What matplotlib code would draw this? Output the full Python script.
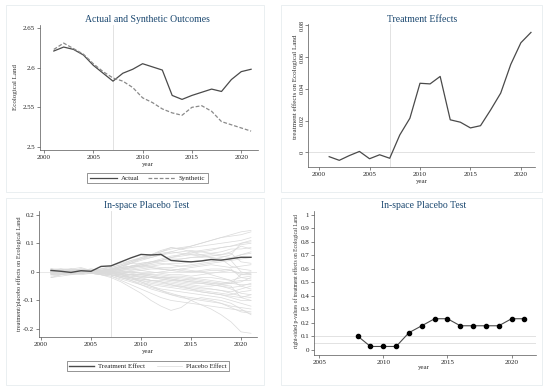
import matplotlib.pyplot as plt
from matplotlib.patches import Rectangle
from matplotlib.ticker import FormatStrFormatter
import numpy as np

plt.rcParams['font.family'] = ['Liberation Serif', 'DejaVu Serif']

W, H = 550, 388

# data
#---------------------------------------------------------------------------
years = list(range(2001, 2022))

actual = [2.621, 2.626, 2.623, 2.616, 2.603, 2.593, 2.583, 2.593, 2.598, 2.605, 2.601,
          2.597, 2.565, 2.560, 2.565, 2.569, 2.573, 2.570, 2.585, 2.595, 2.598]
synthetic = [2.623, 2.631, 2.624, 2.617, 2.605, 2.595, 2.587, 2.583, 2.575, 2.562, 2.556,
             2.548, 2.543, 2.540, 2.550, 2.552, 2.545, 2.532, 2.528, 2.524, 2.520]

effect = [-0.0027, -0.005, -0.002, 0.0006, -0.004, -0.0015, -0.0037, 0.011, 0.0215, 0.0435, 0.0431,
          0.0478, 0.0205, 0.019, 0.0154, 0.0168, 0.0267, 0.0373, 0.0554, 0.069, 0.0755]

treat_effect = [0.005, 0.002, -0.002, 0.004, 0.002, 0.019, 0.021, 0.035, 0.049, 0.061, 0.059,
                0.061, 0.040, 0.037, 0.035, 0.038, 0.043, 0.041, 0.046, 0.051, 0.051]

placebo = [
    [-0.02, -0.01, 0.0, 0.005, 0.0, 0.005, 0.01, 0.02, 0.035, 0.05, 0.06, 0.07, 0.08, 0.085, 0.09, 0.1, 0.11, 0.12, 0.13, 0.14, 0.145],
    [0.01, 0.005, 0.01, 0.005, 0.0, 0.01, 0.015, 0.025, 0.04, 0.05, 0.06, 0.075, 0.085, 0.08, 0.09, 0.1, 0.11, 0.12, 0.125, 0.13, 0.14],
    [-0.005, 0.0, 0.01, 0.015, 0.005, 0.01, 0.02, 0.03, 0.04, 0.045, 0.05, 0.06, 0.07, 0.08, 0.085, 0.09, 0.095, 0.1, 0.105, 0.11, 0.12],
    [0.0, -0.005, 0.005, 0.01, 0.005, 0.0, 0.005, 0.015, 0.02, 0.03, 0.035, 0.045, 0.055, 0.06, 0.065, 0.07, 0.075, 0.085, 0.09, 0.1, 0.105],
    [0.005, 0.01, 0.0, 0.005, 0.01, 0.005, 0.01, 0.02, 0.03, 0.04, 0.05, 0.06, 0.065, 0.07, 0.075, 0.07, 0.065, 0.06, 0.07, 0.09, 0.08],
    [-0.01, 0.0, 0.005, 0.0, -0.005, 0.0, 0.005, 0.01, 0.02, 0.025, 0.03, 0.035, 0.04, 0.045, 0.05, 0.055, 0.06, 0.055, 0.05, 0.06, 0.065],
    [0.0, 0.005, 0.0, -0.005, 0.0, 0.005, 0.0, 0.01, 0.015, 0.02, 0.025, 0.03, 0.025, 0.02, 0.02, 0.025, 0.03, 0.035, 0.04, 0.045, 0.05],
    [0.005, 0.0, -0.005, 0.0, 0.005, 0.0, -0.005, 0.0, 0.005, 0.01, 0.015, 0.01, 0.005, 0.01, 0.015, 0.02, 0.025, 0.02, 0.015, 0.02, 0.025],
    [0.0, 0.005, 0.01, 0.0, -0.005, 0.005, 0.01, 0.015, 0.02, 0.02, 0.015, 0.01, 0.005, 0.0, 0.0, 0.005, 0.01, 0.01, 0.005, -0.005, 0.0],
    [-0.005, 0.0, 0.0, 0.005, 0.0, -0.005, 0.0, 0.005, 0.01, 0.005, 0.0, -0.005, -0.01, -0.01, -0.015, -0.01, -0.005, 0.0, 0.005, -0.01, -0.01],
    [0.0, -0.005, 0.0, 0.005, 0.0, 0.0, -0.005, -0.01, -0.01, -0.015, -0.02, -0.02, -0.025, -0.03, -0.025, -0.02, -0.02, -0.025, -0.03, -0.02, -0.015],
    [0.005, 0.0, 0.005, 0.0, 0.005, 0.0, -0.005, -0.005, -0.01, -0.01, -0.015, -0.02, -0.02, -0.025, -0.03, -0.035, -0.04, -0.04, -0.035, -0.03, -0.03],
    [-0.01, -0.005, 0.0, 0.0, -0.005, -0.01, -0.01, -0.015, -0.02, -0.025, -0.03, -0.03, -0.035, -0.04, -0.045, -0.05, -0.05, -0.045, -0.04, -0.035, -0.02],
    [0.0, 0.0, -0.005, -0.005, 0.0, 0.005, 0.0, -0.005, -0.01, -0.02, -0.02, -0.025, -0.03, -0.035, -0.04, -0.04, -0.045, -0.05, -0.055, -0.05, -0.04],
    [0.005, 0.005, 0.0, 0.0, 0.0, -0.005, -0.01, -0.02, -0.025, -0.03, -0.04, -0.045, -0.05, -0.05, -0.055, -0.06, -0.06, -0.065, -0.07, -0.06, -0.05],
    [-0.005, 0.0, 0.005, 0.0, -0.005, -0.005, -0.01, -0.015, -0.02, -0.025, -0.03, -0.035, -0.045, -0.05, -0.06, -0.065, -0.07, -0.075, -0.08, -0.07, -0.065],
    [0.0, 0.005, 0.005, 0.0, 0.0, 0.0, -0.005, -0.01, -0.02, -0.03, -0.035, -0.04, -0.045, -0.055, -0.06, -0.07, -0.075, -0.08, -0.085, -0.09, -0.08],
    [0.01, 0.005, 0.0, -0.005, 0.0, 0.0, -0.005, -0.015, -0.025, -0.035, -0.045, -0.05, -0.055, -0.06, -0.065, -0.07, -0.075, -0.08, -0.09, -0.1, -0.1],
    [-0.015, -0.01, -0.005, 0.0, 0.0, -0.005, -0.01, -0.02, -0.03, -0.04, -0.05, -0.06, -0.065, -0.07, -0.075, -0.08, -0.085, -0.09, -0.1, -0.11, -0.12],
    [0.0, -0.005, -0.01, -0.005, 0.0, -0.01, -0.015, -0.03, -0.045, -0.06, -0.075, -0.09, -0.1, -0.105, -0.11, -0.115, -0.12, -0.125, -0.13, -0.135, -0.14],
    [0.005, 0.0, -0.005, -0.01, -0.005, -0.01, -0.02, -0.035, -0.055, -0.075, -0.1, -0.12, -0.135, -0.125, -0.1, -0.09, -0.095, -0.1, -0.11, -0.13, -0.15],
    [-0.01, -0.01, -0.005, 0.0, -0.005, -0.01, -0.015, -0.025, -0.035, -0.045, -0.055, -0.065, -0.075, -0.085, -0.1, -0.115, -0.13, -0.15, -0.175, -0.21, -0.215],
    [0.01, 0.01, 0.005, 0.01, 0.005, 0.01, 0.015, 0.025, 0.035, 0.045, 0.055, 0.065, 0.07, 0.065, 0.06, 0.055, 0.05, 0.045, 0.02, 0.01, 0.005],
    [-0.005, -0.005, 0.0, 0.005, 0.0, 0.0, 0.005, 0.015, 0.03, 0.045, 0.06, 0.07, 0.085, 0.08, 0.07, 0.06, 0.05, 0.045, 0.04, 0.0, -0.01],
    [0.0, 0.0, 0.005, 0.0, 0.0, 0.005, 0.01, 0.005, 0.0, -0.005, -0.005, 0.0, 0.005, 0.01, 0.005, 0.0, -0.01, -0.02, -0.03, -0.05, -0.06],
    [0.005, 0.0, 0.0, 0.005, 0.005, 0.0, 0.005, 0.01, 0.01, 0.015, 0.02, 0.025, 0.03, 0.03, 0.035, 0.04, 0.045, 0.05, 0.06, 0.1, 0.11],
    [-0.005, -0.01, -0.005, 0.0, 0.005, 0.0, -0.005, -0.01, -0.015, -0.015, -0.02, -0.025, -0.03, -0.03, -0.035, -0.035, -0.04, -0.045, -0.05, -0.09, -0.1],
    [0.0, 0.005, 0.0, -0.005, -0.005, 0.0, 0.0, -0.005, -0.01, -0.01, -0.01, -0.015, -0.02, -0.02, -0.025, -0.03, -0.035, -0.04, -0.04, -0.01, -0.005],
    [0.01, 0.005, 0.005, 0.0, 0.0, 0.005, 0.005, 0.01, 0.015, 0.02, 0.03, 0.04, 0.05, 0.06, 0.07, 0.075, 0.08, 0.085, 0.09, 0.095, 0.1],
    [-0.01, -0.005, 0.0, 0.005, 0.01, 0.005, 0.0, 0.005, 0.015, 0.025, 0.035, 0.04, 0.05, 0.055, 0.06, 0.06, 0.065, 0.07, 0.08, 0.08, 0.085],
    [0.0, 0.0, 0.0, 0.0, -0.005, -0.005, 0.0, 0.0, 0.0, -0.005, -0.01, -0.01, -0.015, -0.015, -0.02, -0.025, -0.03, -0.035, -0.04, -0.045, -0.045],
    [0.005, 0.0, -0.005, 0.0, 0.0, 0.0, -0.005, -0.01, -0.015, -0.02, -0.03, -0.035, -0.04, -0.045, -0.05, -0.055, -0.06, -0.065, -0.075, -0.085, -0.09],
    [-0.005, 0.0, 0.005, 0.005, 0.0, -0.005, -0.005, -0.01, -0.02, -0.035, -0.05, -0.065, -0.08, -0.09, -0.095, -0.1, -0.105, -0.11, -0.12, -0.125, -0.13],
    [0.0, 0.005, 0.005, 0.01, 0.005, 0.005, 0.01, 0.02, 0.03, 0.03, 0.035, 0.04, 0.045, 0.045, 0.05, 0.05, 0.055, 0.06, 0.065, 0.035, 0.03],
    [0.0, -0.005, 0.0, 0.0, 0.005, 0.0, 0.0, -0.005, 0.0, 0.005, 0.01, 0.01, 0.01, 0.005, 0.0, 0.0, 0.005, 0.005, 0.01, -0.02, -0.025],
    [-0.02, -0.015, -0.01, -0.005, 0.0, -0.005, -0.01, -0.02, -0.03, -0.045, -0.06, -0.07, -0.08, -0.085, -0.09, -0.095, -0.1, -0.11, -0.125, -0.14, -0.145],
    [0.005, 0.01, 0.01, 0.005, 0.0, 0.005, 0.01, 0.015, 0.02, 0.025, 0.02, 0.015, 0.015, 0.02, 0.025, 0.03, 0.035, 0.04, 0.045, 0.06, 0.07],
    [0.0, 0.0, -0.005, 0.0, 0.0, 0.0, 0.005, 0.0, -0.005, -0.01, -0.015, -0.02, -0.025, -0.03, -0.035, -0.04, -0.045, -0.05, -0.06, -0.075, -0.08],
]

pval_years = list(range(2008, 2022))
pvals = [0.103, 0.026, 0.026, 0.026, 0.128, 0.179, 0.231, 0.231, 0.179, 0.179, 0.179, 0.179, 0.231, 0.231]

TITLE_C = '#1a476f'
DARK = '#4a4a4a'
AX_C = '#555555'


# helpers
#---------------------------------------------------------------------------
def add_ax(fig, left, top, right, bottom):
    return fig.add_axes([left / W, 1 - bottom / H, (right - left) / W, (bottom - top) / H])


def style(ax, xlim, ylim, xticks, yticks, fs=5, yfs=5, rot=0, pad=1.5):
    ax.set_xlim(xlim)
    ax.set_ylim(ylim)
    for s in ['top', 'right']:
        ax.spines[s].set_visible(False)
    for s in ['left', 'bottom']:
        ax.spines[s].set_color(AX_C)
        ax.spines[s].set_linewidth(0.5)
    ax.set_xticks(xticks)
    ax.set_yticks(yticks)
    ax.yaxis.set_major_formatter(FormatStrFormatter('%g'))
    ax.tick_params(length=2, width=0.5, color=AX_C, labelsize=fs, pad=1.5, labelcolor='#222222')
    ax.tick_params(axis='y', pad=pad, labelrotation=rot, labelsize=yfs)
    if rot:
        for lab in ax.get_yticklabels():
            lab.set_va('center')
    ax.set_facecolor('none')


def txt(fig, x, y, s, size=5, rot=0, color='#333333'):
    fig.text(x / W, 1 - y / H, s, ha='center', va='center', fontsize=size, rotation=rot, color=color)


def legend(fig, handles, labels, cx, cy, hl, cs):
    leg = fig.legend(handles, labels, loc='center', bbox_to_anchor=(cx / W, 1 - cy / H),
                     ncol=2, fontsize=5, frameon=True, fancybox=False, edgecolor='#444444',
                     handlelength=hl, columnspacing=cs, borderpad=0.35, handletextpad=0.6)
    leg.get_frame().set_linewidth(0.5)
    for t in leg.get_texts():
        t.set_color('#222222')


fig = plt.figure(figsize=(W / 100, H / 100), dpi=100)

# panel frames
for (l, t, r, b) in [(6, 5, 264, 192), (281, 5, 542, 192), (6, 198, 264, 385), (281, 198, 542, 385)]:
    fig.patches.append(Rectangle((l / W, 1 - b / H), (r - l) / W, (b - t) / H, transform=fig.transFigure,
                                 facecolor='white', edgecolor='#e6ecef', linewidth=0.6, zorder=-5))

# Actual and Synthetic
#---------------------------------------------------------------------------
ax1 = add_ax(fig, 40, 25, 258, 150)
ax1.axvline(2007, color='#dddddd', lw=0.6)
ax1.plot(years, actual, color=DARK, lw=0.9, label='Actual')
ax1.plot(years, synthetic, color='#8a8a8a', lw=0.9, ls=(0, (3, 1.5)), label='Synthetic')
style(ax1, (1999.6, 2021.7), (2.4962, 2.6538), [2000, 2005, 2010, 2015, 2020], [2.5, 2.55, 2.6, 2.65])
txt(fig, 147, 19, 'Actual and Synthetic Outcomes', 7, color=TITLE_C)
txt(fig, 148, 164, 'year')
txt(fig, 15, 87, 'Ecological Land', rot=90)
h, l = ax1.get_legend_handles_labels()
legend(fig, h, l, 147.5, 178, 3.9, 1.2)

# Treatment Effects
#---------------------------------------------------------------------------
ax2 = add_ax(fig, 308, 24, 535, 167)
ax2.axvline(2007, color='#dddddd', lw=0.6)
ax2.axhline(0, color='#dddddd', lw=0.6)
ax2.plot(years, effect, color=DARK, lw=0.9)
style(ax2, (1998.9, 2021.4), (-0.0092, 0.0808), [2000, 2005, 2010, 2015, 2020], [0, 0.02, 0.04, 0.06, 0.08],
      yfs=4.6, rot=90, pad=0.3)
txt(fig, 422, 19, 'Treatment Effects', 7, color=TITLE_C)
txt(fig, 422, 182, 'year')
txt(fig, 295, 87, 'treatment effects on Ecological Land', 5.1, rot=90)

# In-space Placebo Test (lines)
#---------------------------------------------------------------------------
ax3 = add_ax(fig, 39, 211, 257, 337)
ax3.axvline(2007, color='#dddddd', lw=0.6)
ax3.axhline(0, color='#e4e4e4', lw=0.6)
for i, p in enumerate(placebo):
    ax3.plot(years, p, color='#dadada', lw=0.5, label='Placebo Effect' if i == 0 else None)
ax3.plot(years, treat_effect, color=DARK, lw=1.0, label='Treatment Effect')
style(ax3, (1999.8, 2021.6), (-0.228, 0.213), [2000, 2005, 2010, 2015, 2020], [-0.2, -0.1, 0, 0.1, 0.2])
txt(fig, 147, 206, 'In-space Placebo Test', 7, color=TITLE_C)
txt(fig, 148, 352, 'year')
txt(fig, 19, 274, 'treatment/placebo effects on Ecological Land', 4.5, rot=90)
h, l = ax3.get_legend_handles_labels()
legend(fig, [h[1], h[0]], [l[1], l[0]], 148, 366, 3.6, 1.7)

# In-space Placebo Test (p-values)
#---------------------------------------------------------------------------
ax4 = add_ax(fig, 314, 211, 536, 355)
ax4.axhline(0.1, color='#dddddd', lw=0.6)
ax4.axhline(0.05, color='#dddddd', lw=0.6)
ax4.plot(pval_years, pvals, color=DARK, lw=0.8, marker='o', ms=3, mfc='black', mec='black')
style(ax4, (2004.6, 2021.9), (-0.037, 1.027), [2005, 2010, 2015, 2020], np.arange(0, 1.01, 0.1).round(1))
txt(fig, 424, 206, 'In-space Placebo Test', 7, color=TITLE_C)
txt(fig, 424, 367, 'year')
txt(fig, 296, 281, 'right-sided p-values of treatment effects on Ecological Land', 4.0, rot=90)

plt.savefig('out.png', dpi=100)
